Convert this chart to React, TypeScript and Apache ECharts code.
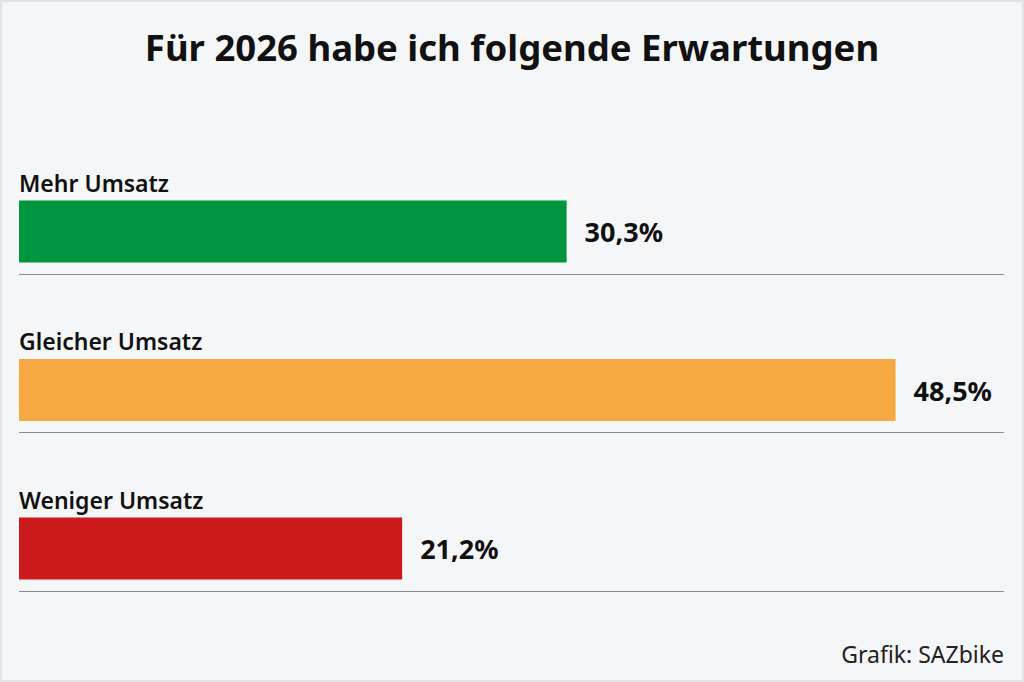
import React, { useEffect, useRef } from "react";
import * as echarts from "echarts";

const TITLE = "Für 2026 habe ich folgende Erwartungen";
const SOURCE = "Grafik: SAZbike";
const categories = ["Mehr Umsatz", "Gleicher Umsatz", "Weniger Umsatz"];
const values = [30.3, 48.5, 21.2];
const colors = ["#00963f", "#f6a943", "#cc1a1c"];

const fmt = (v: number) => v.toFixed(1).replace(".", ",") + "%";

export default function App() {
  const ref = useRef<HTMLDivElement>(null);
  useEffect(() => {
    if (!ref.current) return;
    const chart = echarts.init(ref.current, null, { renderer: "svg" });
    const font = "'Noto Sans', 'Open Sans', sans-serif";
    chart.setOption({
      animation: false,
      backgroundColor: "#f5f6f8",
      textStyle: { fontFamily: font },
      title: [
        {
          text: TITLE,
          left: "center",
          top: 23,
          textStyle: { fontFamily: font, fontSize: 36.5, fontWeight: "bold", color: "#111" },
        },
        {
          text: SOURCE,
          right: 15,
          top: 637,
          textStyle: { fontFamily: font, fontSize: 23, fontWeight: "normal", color: "#222" },
        },
      ],
      grid: [
        { left: 19, right: 20, top: 152.25, bottom: 54.25, containLabel: false },
        { left: 19, right: 20, top: 115.5, bottom: 91, containLabel: false },
      ],
      xAxis: [
        { type: "value", gridIndex: 0, min: 0, max: 54.5, show: false },
        { type: "value", gridIndex: 1, min: 0, max: 1, show: false },
      ],
      yAxis: [
        {
          type: "category",
          gridIndex: 0,
          data: categories,
          inverse: true,
          axisLine: { show: false },
          axisTick: { show: false },
          axisLabel: { show: false },
          splitLine: { show: false },
        },
        {
          type: "value",
          gridIndex: 1,
          min: 0,
          max: 3,
          interval: 1,
          inverse: true,
          axisLine: { show: false },
          axisTick: { show: false },
          axisLabel: { show: false },
          splitLine: {
            show: true,
            showMinLine: false,
            showMaxLine: true,
            lineStyle: { color: "#8a8a8a", width: 1 },
          },
        },
      ],
      series: [
        {
          type: "bar",
          xAxisIndex: 0,
          yAxisIndex: 0,
          barWidth: 62,
          data: values.map((v, i) => ({ value: v, itemStyle: { color: colors[i] } })),
          label: {
            show: true,
            position: "right",
            distance: 18,
            formatter: (p: any) => fmt(p.value),
            fontFamily: font,
            fontSize: 27,
            fontWeight: "bold",
            color: "#111",
          },
          z: 2,
        },
        {
          type: "bar",
          xAxisIndex: 0,
          yAxisIndex: 0,
          barWidth: 62,
          barGap: "-100%",
          data: values,
          itemStyle: { color: "rgba(0,0,0,0)" },
          label: {
            show: true,
            position: [0, -18],
            align: "left",
            verticalAlign: "middle",
            formatter: (p: any) => categories[p.dataIndex],
            fontFamily: font,
            fontSize: 23,
            fontWeight: 600,
            color: "#111",
          },
          silent: true,
          z: 3,
        },
      ],
    });
    return () => chart.dispose();
  }, []);
  return (
    <div style={{ position: "fixed", left: 0, top: 0, width: 1024, height: 682 }}>
      <div ref={ref} style={{ width: 1024, height: 682 }} />
      <div
        style={{
          position: "absolute",
          left: 0,
          top: 0,
          width: 1024,
          height: 682,
          boxSizing: "border-box",
          border: "2px solid #e2e3e6",
          pointerEvents: "none",
        }}
      />
    </div>
  );
}
